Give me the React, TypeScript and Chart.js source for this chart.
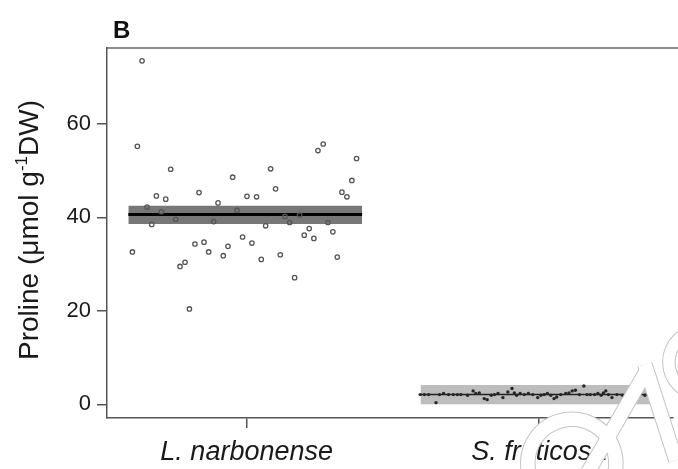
import React, { useEffect, useRef } from "react";
import { Chart, registerables } from "chart.js";

Chart.register(...registerables);

const FONT = "'Liberation Sans', Arial, Helvetica, sans-serif";

const categories = ["L. narbonense", "S. fruticosa"];
const panelLabel = "B";
const yTitleMain = "Proline (\u03bcmol g";
const yTitleSup = "-1";
const yTitleEnd = "DW)";
const yTicks = [0, 20, 40, 60];
const yMin = -2.94;
const yMax = 76.25;
const xMin = -0.478;
const xMax = 1.458;

// L. narbonense: horizontal jitter (category units) and proline values
const narbJitter = [
  -0.358, -0.374, 0.244, 0.262, 0.376, -0.26, 0.082, -0.048, 0.36, 0.099,
  -0.163, 0.326, 0.343, -0.309, -0.277, 0.001, 0.034, -0.098, -0.341, -0.292,
  -0.033, 0.131, 0.181, -0.325, -0.243, -0.113, 0.065, 0.147, 0.278, 0.214,
  0.197, 0.23, 0.295, -0.014, 0.018, -0.177, -0.146, -0.13, -0.064, -0.08,
  -0.391, 0.05, 0.115, 0.31, -0.211, -0.228, 0.164, -0.196,
];
const narbValues = [
  73.5, 55.2, 54.3, 55.7, 52.6, 50.3, 50.4, 48.6, 47.9, 46.1,
  45.3, 45.4, 44.4, 44.6, 43.9, 44.5, 44.4, 43.1, 42.2, 41.2,
  41.5, 40.2, 40.5, 38.5, 39.6, 39.1, 38.2, 38.9, 38.9, 37.6,
  36.2, 35.5, 36.9, 35.8, 34.5, 34.3, 34.7, 32.6, 33.8, 31.8,
  32.6, 31.0, 32.0, 31.5, 30.4, 29.5, 27.1, 20.4,
];

// S. fruticosa
const frutJitter = [
  -0.406, -0.392, -0.377, -0.352, -0.34, -0.326, -0.309, -0.293, -0.279, -0.267,
  -0.244, -0.225, -0.216, -0.204, -0.187, -0.177, -0.163, -0.152, -0.14, -0.123,
  -0.106, -0.092, -0.084, -0.076, -0.064, -0.05, -0.036, -0.021, -0.004, 0.007,
  0.018, 0.029, 0.041, 0.052, 0.061, 0.075, 0.092, 0.103, 0.114, 0.125,
  0.139, 0.154, 0.165, 0.176, 0.191, 0.202, 0.213, 0.221, 0.229, 0.238,
  0.25, 0.267, 0.286, 0.312, 0.323, 0.363, 0.38,
];
const frutValues = [
  2.07, 2.07, 2.07, 0.35, 2.07, 2.29, 2.07, 2.07, 2.07, 2.07,
  1.93, 2.86, 2.29, 2.43, 1.21, 0.99, 1.93, 2.07, 2.29, 1.43,
  2.64, 3.36, 2.43, 1.93, 2.29, 2.07, 2.29, 2.07, 1.43, 1.93,
  2.07, 2.29, 1.93, 1.21, 1.57, 2.07, 2.29, 2.43, 2.86, 3.0,
  2.07, 3.9, 2.07, 2.07, 2.07, 2.29, 1.93, 2.43, 2.86, 2.07,
  1.43, 2.07, 1.93, 1.57, 3.0, 1.93, 1.93,
];

const groupMeans = [40.6, 2.07];
const bandLow = [38.6, 0.0];
const bandHigh = [42.5, 4.1];
const bandFrom = -0.405;
const bandTo = 0.395;

const bandColors = ["#777777", "#bdbdbd"];
const meanColors = ["#000000", "#222222"];
const meanWidths = [3, 1.5];

const extrasPlugin = {
  id: "extras",
  afterDraw(chart: any) {
    const ctx = chart.ctx;
    const area = chart.chartArea;
    const xs = chart.scales.x;
    const ys = chart.scales.y;
    ctx.save();
    // top frame line
    ctx.strokeStyle = "#666666";
    ctx.lineWidth = 1.5;
    ctx.beginPath();
    ctx.moveTo(area.left - 0.75, area.top);
    ctx.lineTo(chart.width, area.top);
    ctx.stroke();

    // panel label
    ctx.fillStyle = "#111111";
    ctx.font = `bold 24px ${FONT}`;
    ctx.textBaseline = "alphabetic";
    ctx.textAlign = "left";
    ctx.fillText(panelLabel, area.left + 6, area.top - 10);

    // y title with superscript
    const big = `28px ${FONT}`;
    const small = `17px ${FONT}`;
    ctx.font = big;
    const w1 = ctx.measureText(yTitleMain).width;
    const w3 = ctx.measureText(yTitleEnd).width;
    ctx.font = small;
    const w2 = ctx.measureText(yTitleSup).width;
    const total = w1 + w2 + w3;
    ctx.translate(38, (area.top + area.bottom) / 2 - 3);
    ctx.rotate(-Math.PI / 2);
    ctx.fillStyle = "#1a1a1a";
    let x = -total / 2;
    ctx.font = big;
    ctx.fillText(yTitleMain, x, 0);
    x += w1;
    ctx.font = small;
    ctx.fillText(yTitleSup, x, -11);
    x += w2;
    ctx.font = big;
    ctx.fillText(yTitleEnd, x, 0);
    ctx.restore();

    // overlay watermark strokes (white with faint outline)
    const cx = xs.getPixelForValue(1);
    const cy = ys.getPixelForValue(0);
    const paths = (c: CanvasRenderingContext2D, w: number) => {
      c.lineWidth = w;
      c.beginPath();
      c.arc(cx + 33, cy + 59, 44, Math.PI * 0.93, Math.PI * 2.07);
      c.stroke();
      c.beginPath();
      c.moveTo(cx + 109, cy - 36);
      c.lineTo(cx + 49, cy + 68);
      c.stroke();
      c.beginPath();
      c.moveTo(cx + 106, cy - 40);
      c.lineTo(cx + 137, cy + 56);
      c.stroke();
      c.lineWidth = w - 2;
      c.beginPath();
      c.arc(cx + 162, cy - 42, 32, 0, Math.PI * 2);
      c.stroke();
    };
    ctx.save();
    ctx.lineCap = "butt";
    ctx.strokeStyle = "#c4c4c4";
    paths(ctx, 15.5);
    ctx.strokeStyle = "#ffffff";
    paths(ctx, 13.5);
    ctx.restore();
  },
};

export default function App() {
  const ref = useRef<HTMLCanvasElement | null>(null);
  useEffect(() => {
    document.body.style.margin = "0";
    Chart.defaults.font.family = FONT;
    const narbPts = narbJitter.map((j, i) => ({ x: 0 + j, y: narbValues[i] }));
    const frutPts = frutJitter.map((j, i) => ({ x: 1 + j, y: frutValues[i] }));
    const datasets: any[] = [
      {
        type: "scatter",
        data: narbPts,
        pointRadius: 2.2,
        pointBorderWidth: 1.3,
        pointBorderColor: "#555555",
        pointBackgroundColor: "rgba(0,0,0,0)",
        showLine: false,
      },
      {
        type: "scatter",
        data: frutPts,
        pointRadius: 1.7,
        pointBorderWidth: 0,
        pointBackgroundColor: "#262626",
        pointBorderColor: "#262626",
        showLine: false,
      },
    ];
    categories.forEach((_, g) => {
      datasets.push({
        type: "line",
        data: [
          { x: g + bandFrom, y: groupMeans[g] },
          { x: g + bandTo, y: groupMeans[g] },
        ],
        borderColor: meanColors[g],
        borderWidth: meanWidths[g],
        pointRadius: 0,
        fill: false,
      });
    });
    categories.forEach((_, g) => {
      datasets.push({
        type: "line",
        data: [
          { x: g + bandFrom, y: bandHigh[g] },
          { x: g + bandTo, y: bandHigh[g] },
        ],
        borderWidth: 0,
        borderColor: "rgba(0,0,0,0)",
        pointRadius: 0,
        backgroundColor: bandColors[g],
        fill: "+1",
      });
      datasets.push({
        type: "line",
        data: [
          { x: g + bandFrom, y: bandLow[g] },
          { x: g + bandTo, y: bandLow[g] },
        ],
        borderWidth: 0,
        borderColor: "rgba(0,0,0,0)",
        pointRadius: 0,
        fill: false,
      });
    });

    const chart = new Chart(ref.current as HTMLCanvasElement, {
      type: "scatter",
      data: { datasets },
      options: {
        animation: false,
        responsive: false,
        devicePixelRatio: 1,
        layout: { padding: { top: 48, left: 0, right: 0, bottom: 0 } },
        plugins: {
          legend: { display: false },
          tooltip: { enabled: false },
          title: { display: false },
        },
        scales: {
          x: {
            type: "linear",
            min: xMin,
            max: xMax,
            afterBuildTicks: (s: any) => {
              s.ticks = categories.map((_, i) => ({ value: i }));
            },
            afterFit: (s: any) => {
              s.height = 51;
              s.paddingLeft = 0;
              s.paddingRight = 0;
            },
            ticks: {
              autoSkip: false,
              maxRotation: 0,
              padding: 8,
              color: "#1a1a1a",
              font: { size: 27, style: "italic", family: FONT },
              callback: (v: any) => categories[Math.round(Number(v))] ?? "",
            },
            grid: {
              drawOnChartArea: false,
              drawTicks: true,
              tickLength: 10,
              color: "#555555",
              lineWidth: 1.5,
            },
            border: { display: true, color: "#555555", width: 1.5 },
          },
          y: {
            type: "linear",
            min: yMin,
            max: yMax,
            afterBuildTicks: (s: any) => {
              s.ticks = yTicks.map((v) => ({ value: v }));
            },
            afterFit: (s: any) => {
              s.width = 107;
              s.paddingTop = 0;
              s.paddingBottom = 0;
            },
            ticks: {
              padding: 6,
              color: "#1a1a1a",
              font: { size: 22, family: FONT },
            },
            grid: {
              drawOnChartArea: false,
              drawTicks: true,
              tickLength: 10,
              color: "#555555",
              lineWidth: 1.5,
            },
            border: { display: true, color: "#555555", width: 1.5 },
          },
        },
      } as any,
      plugins: [extrasPlugin],
    });
    return () => chart.destroy();
  }, []);
  return (
    <div style={{ position: "fixed", left: 0, top: 0, width: 678, height: 469, background: "#fff" }}>
      <canvas ref={ref} width={678} height={469} style={{ display: "block" }} />
    </div>
  );
}
